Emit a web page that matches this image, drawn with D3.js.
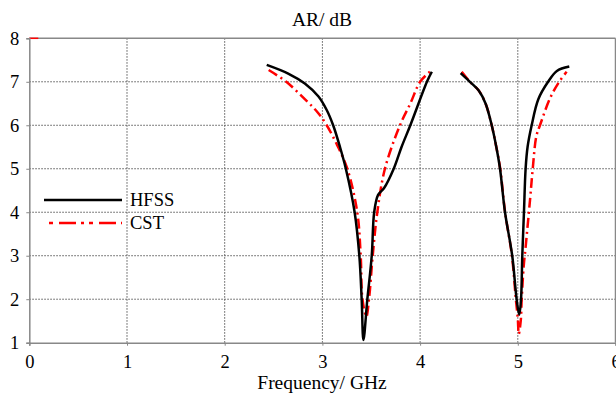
<!DOCTYPE html>
<html>
<head>
<meta charset="utf-8">
<script src="https://cdn.jsdelivr.net/npm/d3@7"></script>
<style>
  body { margin: 0; background: #fff; }
  svg { display: block; }
  text { font-family: "Liberation Serif", "Times New Roman", serif; fill: #000; }
</style>
</head>
<body>
<svg id="chart" width="616" height="396"></svg>
<script>
// values: [frequency GHz, AR dB]
const hfssLow = [[2.43,7.39],[2.65,7.19],[2.82,6.96],[2.96,6.66],[3.044,6.35],[3.11,6.0],[3.18,5.5],[3.24,5.0],[3.33,4.0],[3.378,3.0],[3.402,2.0],[3.42,1.06],[3.46,2.0],[3.505,3.0],[3.53,4.0],[3.57,4.4],[3.63,4.55],[3.73,5.0],[3.81,5.5],[3.9,6.0],[4.07,7.0],[4.12,7.23]];
const hfssHigh = [[4.415,7.2],[4.51,7.0],[4.6,6.8],[4.67,6.5],[4.733,6.0],[4.78,5.5],[4.818,5.0],[4.869,4.0],[4.943,3.0],[4.988,2.0],[5.015,1.64],[5.033,2.0],[5.046,3.0],[5.063,4.0],[5.08,5.0],[5.1,5.5],[5.142,6.0],[5.21,6.6],[5.31,7.0],[5.4,7.25],[5.527,7.35]];
const cstLow = [[2.45,7.27],[2.63,7.0],[2.82,6.6],[2.95,6.3],[3.044,6.0],[3.15,5.55],[3.255,5.0],[3.357,4.0],[3.392,3.0],[3.41,2.0],[3.45,1.6],[3.477,2.0],[3.515,3.0],[3.562,4.0],[3.64,5.0],[3.794,6.0],[3.9,6.5],[4.0,7.0],[4.10,7.23]];
const cstHigh = [[4.426,7.23],[4.51,7.0],[4.6,6.8],[4.67,6.5],[4.733,6.0],[4.78,5.5],[4.82,5.0],[4.87,4.0],[4.94,3.0],[4.98,2.0],[5.0,1.55],[5.01,1.2],[5.03,1.5],[5.04,2.0],[5.06,2.75],[5.08,3.2],[5.125,4.28],[5.153,5.0],[5.19,5.75],[5.227,6.0],[5.33,6.62],[5.415,6.97],[5.50,7.23]];
const xTicks = [0, 1, 2, 3, 4, 5, 6];
const yTicks = [1, 2, 3, 4, 5, 6, 7, 8];

const svg = d3.select('#chart');
const x = d3.scaleLinear().domain([0, 6]).range([29.3, 615.5]);
const y = d3.scaleLinear().domain([1, 8]).range([342.7, 38.3]);
const fs = '18.5px';

// dotted grid
const grid = svg.append('g');
grid.selectAll('.vg').data(xTicks.slice(1, 6)).enter().append('line')
    .attr('x1', d => x(d)).attr('x2', d => x(d))
    .attr('y1', y(1)).attr('y2', y(8))
    .attr('stroke', '#555').attr('stroke-width', 1).attr('stroke-dasharray', '1.5,1.5');
grid.selectAll('.hg').data(yTicks.slice(1, 7)).enter().append('line')
    .attr('x1', x(0)).attr('x2', x(6))
    .attr('y1', d => y(d)).attr('y2', d => y(d))
    .attr('stroke', '#555').attr('stroke-width', 1).attr('stroke-dasharray', '1.5,1.5');

// frame: top and right
svg.append('line').attr('x1', x(0)).attr('x2', x(6)).attr('y1', y(8)).attr('y2', y(8))
    .attr('stroke', '#888').attr('stroke-width', 1.5);
svg.append('line').attr('x1', x(6)).attr('x2', x(6)).attr('y1', y(8)).attr('y2', y(1))
    .attr('stroke', '#888').attr('stroke-width', 1.5);
// small red mark at the top-left corner
svg.append('line').attr('x1', x(0)).attr('x2', x(0) + 9).attr('y1', y(8)).attr('y2', y(8))
    .attr('stroke', '#ff0000').attr('stroke-width', 1.5);

// axes
const xAxis = svg.append('g').attr('transform', `translate(0,${y(1)})`)
    .call(d3.axisBottom(x).tickValues(xTicks).tickFormat(d3.format('d')).tickSizeOuter(0).tickSize(3).tickPadding(9));
const yAxis = svg.append('g').attr('transform', `translate(${x(0)},0)`)
    .call(d3.axisLeft(y).tickValues(yTicks).tickFormat(d3.format('d')).tickSizeOuter(0).tickSize(3).tickPadding(7));
[xAxis, yAxis].forEach(a => {
    a.select('.domain').attr('stroke', '#888').attr('stroke-width', 1.5);
    a.selectAll('.tick line').attr('stroke', '#888');
    a.selectAll('text').style('font-size', fs).style('font-family', '"Liberation Serif", serif').attr('fill', '#000');
});

// curves
const line = d3.line().x(d => x(d[0])).y(d => y(d[1])).curve(d3.curveCatmullRom.alpha(0.5));
[cstLow, cstHigh].forEach(s => {
    svg.append('path').datum(s).attr('d', line).attr('fill', 'none')
        .attr('stroke', '#ff0000').attr('stroke-width', 2.5).attr('stroke-dasharray', '10,4,2,4');
});
[hfssLow, hfssHigh].forEach(s => {
    svg.append('path').datum(s).attr('d', line).attr('fill', 'none')
        .attr('stroke', '#000').attr('stroke-width', 2.5);
});

// legend
svg.append('line').attr('x1', 44).attr('x2', 122).attr('y1', 200).attr('y2', 200)
    .attr('stroke', '#000').attr('stroke-width', 2.5);
svg.append('text').attr('x', 130).attr('y', 205.5).style('font-size', fs).text('HFSS');
svg.append('line').attr('x1', 49).attr('x2', 122).attr('y1', 223).attr('y2', 223)
    .attr('stroke', '#ff0000').attr('stroke-width', 2.5).attr('stroke-dasharray', '4,6,17,5,3,5');
svg.append('text').attr('x', 130).attr('y', 228.5).style('font-size', fs).text('CST');

// titles
svg.append('text').attr('x', 322).attr('y', 26).attr('text-anchor', 'middle')
    .style('font-size', '19.5px').text('AR/ dB');
svg.append('text').attr('x', 322).attr('y', 389).attr('text-anchor', 'middle')
    .style('font-size', '19.5px').text('Frequency/ GHz');
</script>
</body>
</html>
